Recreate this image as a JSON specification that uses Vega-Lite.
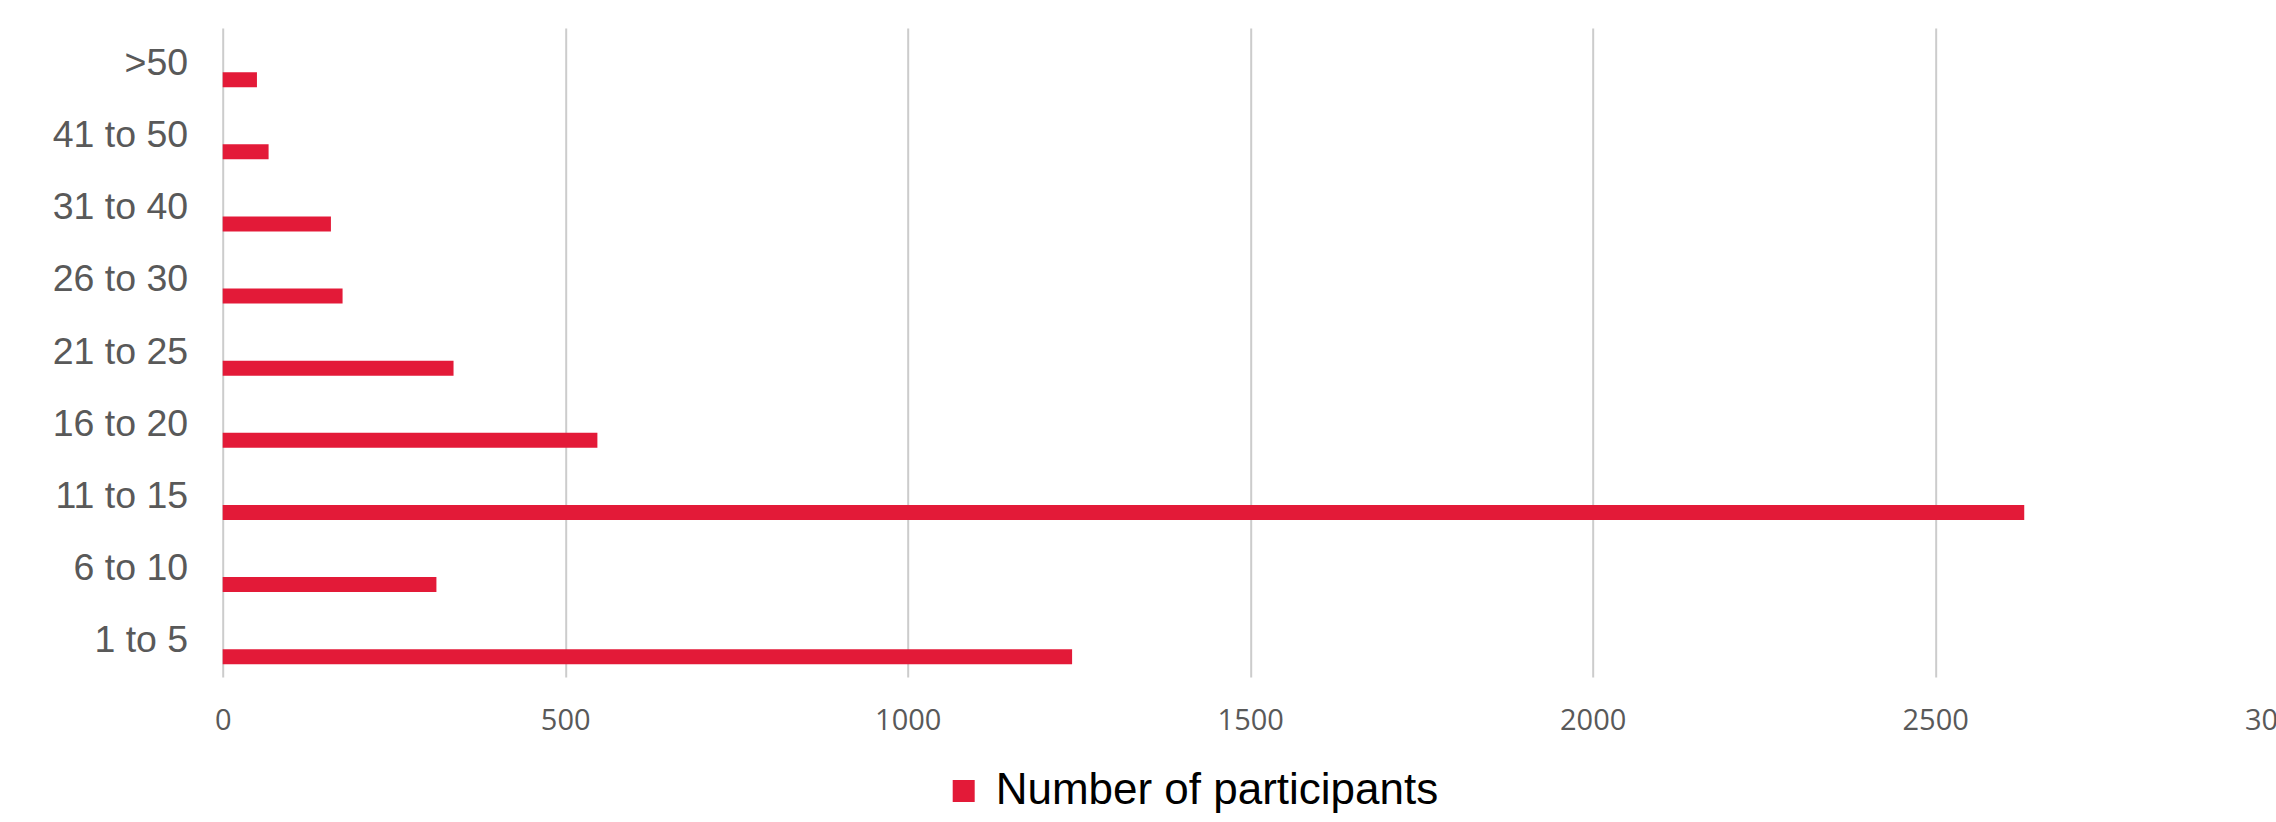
{
  "$schema": "https://vega.github.io/schema/vega-lite/v6.json",
  "autosize": {"type": "none"},
  "padding": {"left": 222.7, "top": 28, "right": 0, "bottom": 145},
  "width": 2055,
  "height": 649,
  "background": "white",
  "config": {"view": {"stroke": null}},
  "data": {
    "values": [
      {"group": ">50", "participants": 50},
      {"group": "41 to 50", "participants": 67},
      {"group": "31 to 40", "participants": 158},
      {"group": "26 to 30", "participants": 175},
      {"group": "21 to 25", "participants": 337},
      {"group": "16 to 20", "participants": 547},
      {"group": "11 to 15", "participants": 2630},
      {"group": "6 to 10", "participants": 312},
      {"group": "1 to 5", "participants": 1240}
    ]
  },
  "mark": {"type": "bar", "height": {"band": 0.208}, "yOffset": 15.7},
  "encoding": {
    "y": {
      "field": "group",
      "type": "nominal",
      "sort": [">50", "41 to 50", "31 to 40", "26 to 30", "21 to 25", "16 to 20", "11 to 15", "6 to 10", "1 to 5"],
      "scale": {"paddingInner": 0, "paddingOuter": 0},
      "axis": {
        "title": null,
        "domain": false,
        "ticks": false,
        "tickSize": 0,
        "grid": false,
        "labelFont": "Liberation Sans",
        "labelFontSize": 37.5,
        "labelColor": "#595959",
        "labelPadding": 35
      }
    },
    "x": {
      "field": "participants",
      "type": "quantitative",
      "scale": {"domain": [0, 3000], "nice": false},
      "axis": {
        "title": null,
        "values": [0, 500, 1000, 1500, 2000, 2500, 3000],
        "format": "d",
        "domain": false,
        "ticks": false,
        "tickSize": 0,
        "grid": true,
        "gridColor": "#cccccc",
        "gridWidth": 2,
        "labelFont": "Open Sans",
        "labelFontSize": 29,
        "labelColor": "#595959",
        "labelPadding": 30,
        "labelFlush": false,
        "labelOverlap": false
      }
    },
    "color": {
      "datum": "Number of participants",
      "type": "nominal",
      "scale": {"range": ["#E31A38"]},
      "legend": {
        "title": null,
        "orient": "none",
        "legendX": 719,
        "legendY": 741,
        "symbolType": "square",
        "symbolSize": 484,
        "symbolStrokeWidth": 0,
        "labelFont": "Liberation Sans",
        "labelFontSize": 44,
        "labelColor": "#000000",
        "labelOffset": 10,
        "labelLimit": 0,
        "padding": 0
      }
    }
  }
}
